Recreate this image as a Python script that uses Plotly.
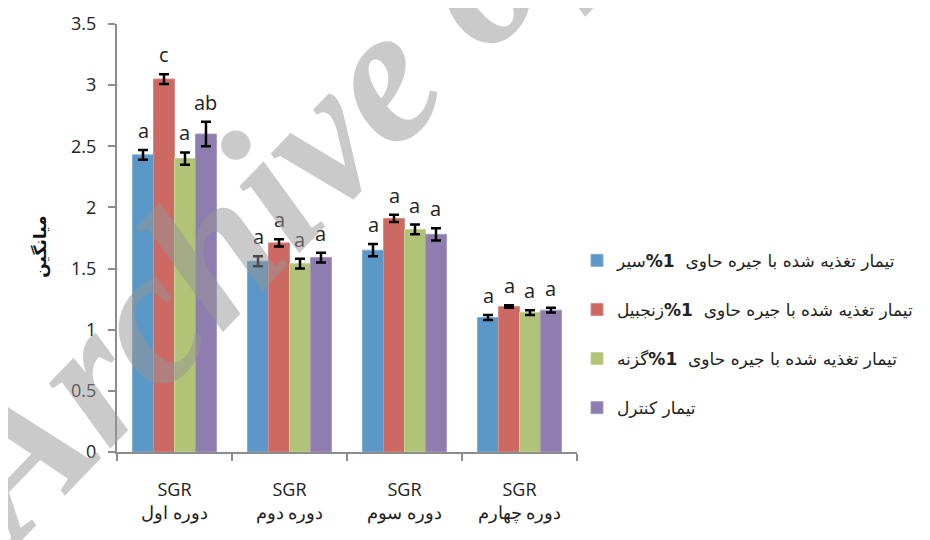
import plotly.graph_objects as go

categories = ["SGR<br>دوره اول", "SGR<br>دوره دوم", "SGR<br>دوره سوم", "SGR<br>دوره چهارم"]

series_names = [
    "تیمار تغذیه شده با جیره حاوی  <b>1%</b>سیر",
    "تیمار تغذیه شده با جیره حاوی  <b>1%</b>زنجبیل",
    "تیمار تغذیه شده با جیره حاوی  <b>1%</b>گزنه",
    "تیمار کنترل",
]
garlic = [2.43, 1.56, 1.65, 1.10]
ginger = [3.05, 1.71, 1.91, 1.19]
nettle = [2.40, 1.54, 1.82, 1.14]
control = [2.60, 1.59, 1.78, 1.16]

garlic_err = [0.04, 0.04, 0.05, 0.02]
ginger_err = [0.04, 0.03, 0.03, 0.01]
nettle_err = [0.05, 0.04, 0.04, 0.02]
control_err = [0.10, 0.04, 0.05, 0.02]

garlic_letters = ["a", "a", "a", "a"]
ginger_letters = ["c", "a", "a", "a"]
nettle_letters = ["a", "a", "a", "a"]
control_letters = ["ab", "a", "a", "a"]

COLORS = ["#5B98C7", "#CD6963", "#B1C377", "#8F7DB0"]
OUTLINES = ["#7FAED6", "#DB8A85", "#C6D497", "#A898C4"]

values = [garlic, ginger, nettle, control]
errors = [garlic_err, ginger_err, nettle_err, control_err]
letters = [garlic_letters, ginger_letters, nettle_letters, control_letters]

BARGAP = 0.27
FONT = "Open Sans, Liberation Sans, sans-serif"
ARABIC = "DejaVu Sans, sans-serif"

fig = go.Figure()
for k in range(4):
    fig.add_trace(
        go.Bar(
            x=categories,
            y=values[k],
            name=series_names[k],
            legendgroup=f"g{k}",
            marker={"color": COLORS[k], "line": {"color": OUTLINES[k], "width": 1}},
            error_y={
                "type": "data",
                "array": errors[k],
                "color": "black",
                "thickness": 2.5,
                "width": 5,
            },
        )
    )

# significance letters above each error bar
annotations = []
w = (1 - BARGAP) / 4
for k in range(4):
    for i in range(len(categories)):
        annotations.append(
            {
                "x": i + (k - 1.5) * w,
                "y": values[k][i] + errors[k][i],
                "xref": "x",
                "yref": "y",
                "text": letters[k][i],
                "showarrow": False,
                "yanchor": "bottom",
                "yshift": 4,
                "font": {"size": 20, "color": "#222", "family": FONT},
            }
        )

# y-axis title
annotations.append(
    {
        "x": -0.167,
        "y": 0.48,
        "xref": "paper",
        "yref": "paper",
        "xanchor": "center",
        "yanchor": "middle",
        "text": "<b>میانگین</b>",
        "showarrow": False,
        "textangle": -90,
        "font": {"family": ARABIC, "size": 17, "color": "#111"},
    }
)

# watermark
annotations.append(
    {
        "x": 0.587,
        "y": 0.90,
        "xref": "paper",
        "yref": "paper",
        "xanchor": "center",
        "yanchor": "middle",
        "text": "<b><i>Archive of SID</i></b>",
        "showarrow": False,
        "textangle": -46,
        "font": {
            "size": 195,
            "color": "rgba(150,150,150,0.5)",
            "family": "Times New Roman, Liberation Serif, DejaVu Serif, serif",
            "style": "italic",
            "weight": 700,
        },
    }
)

fig.update_layout(
    width=930,
    height=540,
    barmode="group",
    bargap=BARGAP,
    bargroupgap=0,
    paper_bgcolor="white",
    plot_bgcolor="white",
    margin={"l": 109, "r": 361, "t": 16, "b": 96},
    font={"family": FONT, "size": 17, "color": "#222"},
    annotations=annotations,
    legend={
        "x": 1.0,
        "xanchor": "left",
        "y": 0.275,
        "yanchor": "middle",
        "tracegroupgap": 24,
        "font": {"family": ARABIC, "size": 17, "color": "#222"},
        "itemwidth": 30,
    },
    xaxis={
        "showline": True,
        "linecolor": "#8c8c8c",
        "linewidth": 2,
        "ticks": "outside",
        "tickson": "boundaries",
        "ticklen": 7,
        "tickcolor": "#8c8c8c",
        "tickwidth": 2,
        "tickfont": {"size": 18},
        "ticklabelstandoff": 20,
        "showgrid": False,
        "automargin": False,
    },
    yaxis={
        "range": [0, 3.5],
        "dtick": 0.5,
        "showline": True,
        "linecolor": "#8c8c8c",
        "linewidth": 2,
        "ticks": "outside",
        "ticklen": 7,
        "tickcolor": "#8c8c8c",
        "tickwidth": 2,
        "ticklabelstandoff": 8,
        "showgrid": False,
        "zeroline": False,
        "tickfont": {"size": 18},
        "automargin": False,
    },
)

fig.write_html("out.html")
